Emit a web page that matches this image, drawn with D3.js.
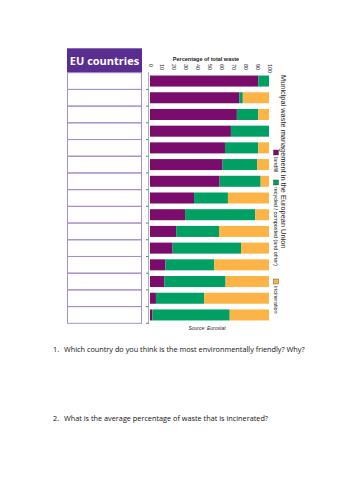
<!DOCTYPE html>
<html>
<head>
<meta charset="utf-8">
<script src="https://cdn.jsdelivr.net/npm/d3@7"></script>
<style>
  body { margin: 0; background: #fff; }
  svg { display: block; }
</style>
</head>
<body>
<svg id="page" width="354" height="500"></svg>
<script>
// rows of the chart (countries are left blank on the worksheet)
var rows = d3.range(1, 16).map(function(i) { return 'r' + i; });
var landfill     = [91, 75, 73, 68, 63, 61, 58.5, 37, 29.5, 22, 19, 13, 12, 5, 2];
var recycled     = [9, 3, 18, 32, 28, 29, 34.5, 28.5, 59, 36, 57.5, 41, 51.5, 40.5, 65];
var incineration = [0, 22, 9, 0, 9, 10, 7, 34.5, 11.5, 42, 23.5, 46, 36.5, 54.5, 33];
var keys = ['landfill', 'recycled', 'incineration'];
var legendLabels = ['landfill', 'recycled / composted (and other)', 'incineration'];
var tickValues = d3.range(0, 101, 10);
var questions = [
  'Which country do you think is the most environmentally friendly? Why?',
  'What is the average percentage of waste that is incinerated?'
];

var colors = {landfill: '#7a0c6c', recycled: '#00a064', incineration: '#fdb447'};

var svg = d3.select('#page');

var table = rows.map(function(r, i) {
  return {row: r, landfill: landfill[i], recycled: recycled[i], incineration: incineration[i]};
});

var x = d3.scaleLinear().domain([0, 100]).range([150, 269]);
var y = d3.scaleBand().domain(rows).range([72.7, 323.3]).paddingInner(0.34).paddingOuter(0.17);

// --- table on the left
var tx0 = 67, tx1 = 142;
svg.append('rect')
  .attr('x', tx0).attr('y', 48.3)
  .attr('width', tx1 - tx0).attr('height', 72.7 - 48.3)
  .attr('fill', '#5a2d91');
svg.append('text')
  .attr('x', (tx0 + tx1) / 2).attr('y', 65)
  .attr('text-anchor', 'middle')
  .attr('font-family', 'Open Sans, sans-serif')
  .attr('font-weight', 'bold')
  .attr('font-size', 11)
  .attr('fill', '#fff')
  .text('EU countries');

var rowStep = (323.3 - 72.7) / rows.length;
svg.append('g').selectAll('rect')
  .data(rows)
  .join('rect')
  .attr('x', tx0 + 0.5)
  .attr('y', function(d, i) { return 72.7 + i * rowStep; })
  .attr('width', tx1 - tx0 - 1)
  .attr('height', rowStep)
  .attr('fill', 'none')
  .attr('stroke', '#a58ccf')
  .attr('stroke-width', 1);

// --- stacked bars
var series = d3.stack().keys(keys)(table);

svg.append('g').selectAll('g')
  .data(series)
  .join('g')
  .attr('fill', function(d) { return colors[d.key]; })
  .selectAll('rect')
  .data(function(d) { return d; })
  .join('rect')
  .attr('x', function(d) { return x(d[0]); })
  .attr('y', function(d) { return y(d.data.row); })
  .attr('width', function(d) { return x(d[1]) - x(d[0]); })
  .attr('height', y.bandwidth());

// left axis line with ticks between rows
var leftAxis = svg.append('g');
leftAxis.append('line')
  .attr('x1', 148.5).attr('x2', 148.5)
  .attr('y1', 72).attr('y2', 324)
  .attr('stroke', '#9a9a9a').attr('stroke-width', 0.8);
leftAxis.selectAll('line.tk')
  .data(d3.range(1, rows.length + 1))
  .join('line')
  .attr('class', 'tk')
  .attr('x1', 146).attr('x2', 148.5)
  .attr('y1', function(i) { return 72.7 + i * rowStep; })
  .attr('y2', function(i) { return 72.7 + i * rowStep; })
  .attr('stroke', '#555').attr('stroke-width', 0.8);

// top axis, labels turned
var topAxis = svg.append('g')
  .attr('transform', 'translate(0,64)')
  .call(d3.axisTop(x).tickValues(tickValues).tickSize(0).tickPadding(0));
topAxis.select('.domain').remove();
topAxis.selectAll('text')
  .attr('font-family', 'Liberation Sans, sans-serif')
  .attr('font-size', 5.5)
  .attr('fill', '#222')
  .attr('text-anchor', 'start')
  .attr('transform', 'rotate(90)')
  .attr('x', 0).attr('y', 0).attr('dy', '0.35em');

svg.append('text')
  .attr('x', 206).attr('y', 61)
  .attr('text-anchor', 'middle')
  .attr('font-family', 'Liberation Sans, sans-serif')
  .attr('font-weight', 'bold')
  .attr('font-size', 5.5)
  .attr('fill', '#222')
  .text('Percentage of total waste');

svg.append('text')
  .attr('x', 207).attr('y', 330)
  .attr('text-anchor', 'middle')
  .attr('font-family', 'Liberation Sans, sans-serif')
  .attr('font-style', 'italic')
  .attr('font-size', 5)
  .attr('fill', '#222')
  .text('Source: Eurostat');

// --- title and legend on the right, turned clockwise
var side = svg.append('g').attr('transform', 'translate(284,75) rotate(90)');
side.append('text')
  .attr('x', 0).attr('y', 0)
  .attr('dy', '0.35em')
  .attr('font-family', 'Liberation Sans, sans-serif')
  .attr('font-size', 7.4)
  .attr('fill', '#222')
  .text('Municipal waste management in the European Union');

var legendPos = [75, 105, 204];
var leg = side.selectAll('g.leg')
  .data(keys)
  .join('g')
  .attr('class', 'leg')
  .attr('transform', function(d, i) { return 'translate(' + legendPos[i] + ',8)'; });
leg.append('rect')
  .attr('x', 0).attr('y', -2.5)
  .attr('width', 5).attr('height', 5)
  .attr('fill', function(d) { return colors[d]; })
  .attr('stroke', '#333').attr('stroke-width', 0.4);
leg.append('text')
  .attr('x', 7).attr('y', 0).attr('dy', '0.35em')
  .attr('font-family', 'Liberation Sans, sans-serif')
  .attr('font-size', 5.4)
  .attr('fill', '#222')
  .text(function(d, i) { return legendLabels[i]; });

// --- questions under the chart
var qy = [352, 421];
var q = svg.selectAll('g.q')
  .data(questions)
  .join('g')
  .attr('class', 'q')
  .attr('font-family', 'Open Sans, sans-serif')
  .attr('font-size', 7.3)
  .attr('fill', '#111');
q.append('text')
  .attr('x', 53).attr('y', function(d, i) { return qy[i]; })
  .text(function(d, i) { return (i + 1) + '.'; });
q.append('text')
  .attr('x', 64).attr('y', function(d, i) { return qy[i]; })
  .text(function(d) { return d; });
</script>
</body>
</html>
